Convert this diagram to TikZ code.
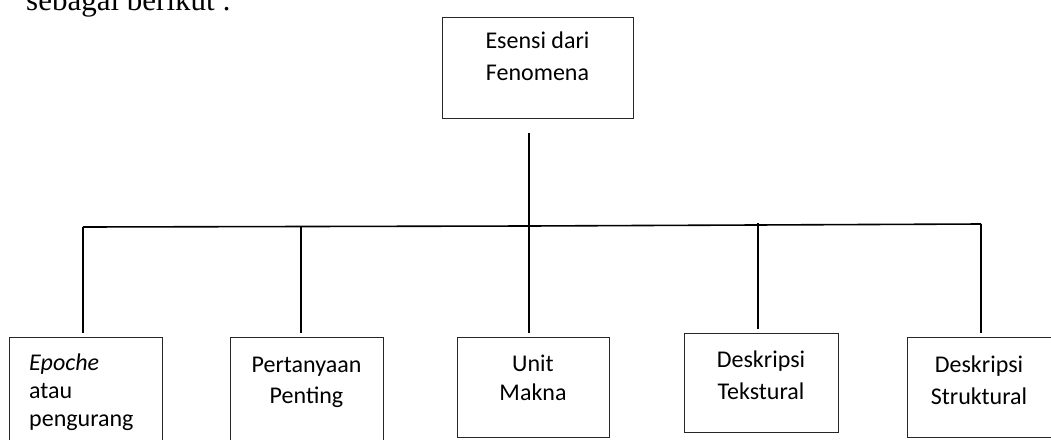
\documentclass[tikz,border=0pt]{standalone}
\usepackage{fontspec}
\setmainfont{Carlito}
\newfontfamily\serifintro{Liberation Serif}
\begin{document}
\begin{tikzpicture}[x=1pt,y=-1pt,
  box/.style={draw=black!85,line width=0.8pt,anchor=north west,inner sep=0pt},
  lbl/.style={font=\fontsize{24}{29}\selectfont,align=center,inner sep=0pt},
  conn/.style={draw=black,line width=1.6pt}]
\useasboundingbox (0,0) rectangle (1051,439);
% intro text (cut off at top)
\node[anchor=base west,inner sep=0pt,font=\serifintro\fontsize{31}{34}\selectfont] (intro) at (26,10) {sebagai berikut :};
% top box
\node[box,minimum width=191,minimum height=101] (top) at (442,17) {};
\node[lbl,anchor=base] (topt) at (537.5,80) {Esensi dari\\[3pt]Fenomena};
% bottom boxes
\node[box,minimum width=153,minimum height=130] (ep) at (9,337) {};
\node[box,minimum width=153,minimum height=130] (pt) at (230,337) {};
\node[box,minimum width=152,minimum height=100] (um) at (457,337) {};
\node[box,minimum width=154,minimum height=99] (dt) at (684,333) {};
\node[box,minimum width=145,minimum height=100] (ds) at (907,337) {};
% texts
\node[lbl,anchor=base west,align=left,font=\fontsize{24}{28}\selectfont] (ept) at (29,426) {\textit{Epoche}\\atau\\pengurang};
\node[lbl,anchor=base] (ptt) at (306.5,403) {Pertanyaan\\[2pt]Penting};
\node[lbl,anchor=base] (umt) at (533,400) {Unit\\Makna};
\node[lbl,anchor=base] (dtt) at (761,399) {Deskripsi\\[3pt]Tekstural};
\node[lbl,anchor=base] (dst) at (979,404) {Deskripsi\\[3pt]Struktural};
% bus coordinates
\coordinate (b1) at (83,227);
\coordinate (b2) at (301,227);
\coordinate (b3) at (529,226);
\coordinate (b4) at (758,225);
\coordinate (b5) at (981,224);
\coordinate (tstart) at (529,133);
% connectors
\draw[conn] (tstart) -- (b3);
\draw[conn] (b1) -- (b3) -- (b5);
\draw[conn] (b1) -- ([yshift=4pt]b1 |- ep.north);
\draw[conn] (b2) -- ([yshift=4pt]b2 |- pt.north);
\draw[conn] (b3) -- ([yshift=4pt]b3 |- um.north);
\draw[conn] ([yshift=2pt]b4) -- ([yshift=4pt]b4 |- dt.north);
\draw[conn] (b5) -- ([yshift=4pt]b5 |- ds.north);
\end{tikzpicture}
\end{document}
